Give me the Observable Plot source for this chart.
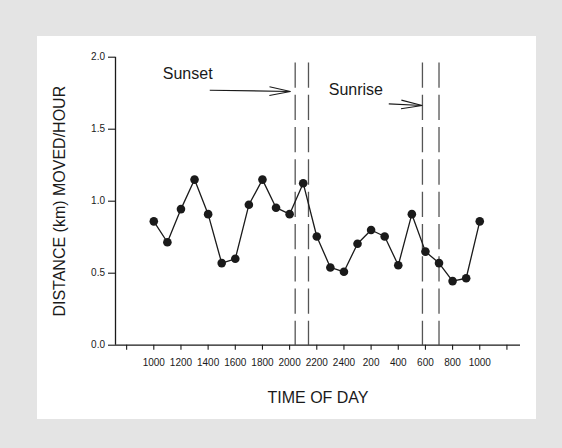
<!DOCTYPE html>
<html><head><meta charset="utf-8">
<script src="https://cdn.jsdelivr.net/npm/d3@7"></script>
<script src="https://cdn.jsdelivr.net/npm/@observablehq/plot@0.6"></script>
<style>
html,body{margin:0;padding:0;background:#e4e4e4;}
body{width:562px;height:448px;position:relative;overflow:hidden;}
#chart{position:absolute;left:37px;top:36px;width:499px;height:383px;background:#fff;}
</style></head><body><div id="chart"></div>
<script>
// ---- data ----
const hours = [10,11,12,13,14,15,16,17,18,19,20,21,22,23,24,25,26,27,28,29,30,31,32,33,34];
const distance = [0.86,0.715,0.945,1.15,0.91,0.57,0.60,0.975,1.15,0.955,0.91,1.125,0.755,0.54,0.51,0.705,0.80,0.755,0.555,0.91,0.65,0.57,0.445,0.465,0.86];
const tickHours = [8,10,12,14,16,18,20,22,24,26,28,30,32,34,36];
const tickLabels = ["","1000","1200","1400","1600","1800","2000","2200","2400","200","400","600","800","1000",""];
const yTicks = [0,0.5,1,1.5,2];
const sunLines = [20.41,21.39,29.78,31.0];
const dashTop = 1.96;
const noteLabels = ["Sunset","Sunrise"];
const noteX = [10.66,22.88];
const noteY = [1.885,1.771];
const arrowX1 = [14.12,27.30];
const arrowY1 = [1.771,1.676];
const arrowX2 = [20.06,29.76];
const arrowY2 = [1.762,1.665];
const xDomain = [7.18,37.0];
const yDomain = [0,2];
const xTitle = "TIME OF DAY";
const yTitle = "DISTANCE (km) MOVED/HOUR";

const points = hours.map((h,i)=>({hour:h, dist:distance[i]}));
const labelFor = new Map(tickHours.map((h,i)=>[h,tickLabels[i]]));

function openHead(len, half){
  return (color, context) => {
    const doc = (context && context.document) || document;
    const ns = "http://www.w3.org/2000/svg";
    const m = doc.createElementNS(ns,"marker");
    m.setAttribute("viewBox", `${-len-2} ${-half-2} ${len+4} ${2*half+4}`);
    m.setAttribute("markerUnits","userSpaceOnUse");
    m.setAttribute("markerWidth", len+4);
    m.setAttribute("markerHeight", 2*half+4);
    m.setAttribute("refX", 0);
    m.setAttribute("refY", 0);
    m.setAttribute("orient","auto");
    m.setAttribute("overflow","visible");
    const p = doc.createElementNS(ns,"path");
    p.setAttribute("d", `M${-len},${-half}L0,0L${-len},${half}`);
    p.setAttribute("fill","none");
    p.setAttribute("stroke", color);
    p.setAttribute("stroke-width", 1.1);
    m.appendChild(p);
    return m;
  };
}

const ink = "#1a1a1a";
const chart = Plot.plot({
  width: 499,
  height: 383,
  marginLeft: 78,
  marginRight: 16,
  marginTop: 20.7,
  marginBottom: 74.3,
  style: {fontFamily: "'Liberation Sans', Arial, Helvetica, sans-serif", fontSize: "10px", color: ink, background: "white"},
  x: {domain: xDomain, label: null},
  y: {domain: yDomain, label: null},
  marks: [
    Plot.ruleX(sunLines, {x: d=>d, y1: dashTop, y2: 0, stroke: "#555", strokeWidth: 1.3, strokeDasharray: "25.3,7"}),
    Plot.axisY({ticks: yTicks, tickSize: 7, tickPadding: 3.5, tickFormat: d3.format(".1f"), label: null, fontSize: 10, strokeWidth: 1.1}),
    Plot.axisX({ticks: tickHours, tickSize: 5, tickPadding: 8.5, tickFormat: d=>labelFor.get(d), label: null, fontSize: 10, strokeWidth: 1.1}),
    Plot.ruleX([xDomain[0]], {stroke: ink, strokeWidth: 1.3}),
    Plot.ruleY([yDomain[0]], {stroke: ink, strokeWidth: 1.3}),
    Plot.line(points, {x: "hour", y: "dist", stroke: ink, strokeWidth: 1.3}),
    Plot.dot(points, {x: "hour", y: "dist", r: 4.3, fill: ink, stroke: null}),
    Plot.link(noteLabels, {x1: arrowX1, y1: arrowY1, x2: arrowX2, y2: arrowY2, stroke: ink, strokeWidth: 1.1, markerEnd: openHead(21, 4.3)}),
    Plot.text(noteLabels, {x: noteX, y: noteY, text: d=>d, textAnchor: "start", fontSize: 16, fill: ink}),
    Plot.text([xTitle], {frameAnchor: "bottom", dy: 52.3, text: d=>d, textAnchor: "middle", lineAnchor: "middle", fontSize: 16, fill: ink}),
    Plot.text([yTitle], {frameAnchor: "left", dx: -55.5, rotate: -90, text: d=>d, textAnchor: "middle", lineAnchor: "middle", fontSize: 16, fill: ink})
  ]
});
document.getElementById("chart").appendChild(chart);
</script>
</body></html>
